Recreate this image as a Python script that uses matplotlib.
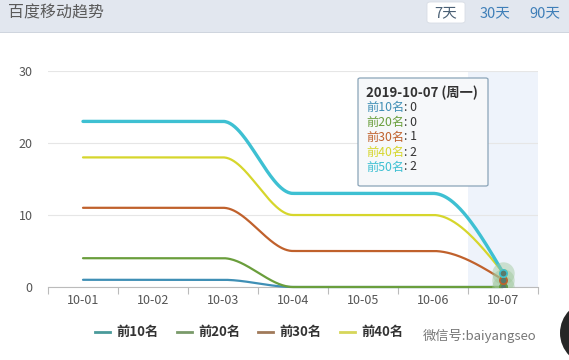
import numpy as np
import matplotlib
matplotlib.use("Agg")
import matplotlib.pyplot as plt
from matplotlib.patches import Rectangle, FancyBboxPatch, Ellipse
from matplotlib.transforms import ScaledTranslation

plt.rcParams['font.family'] = ['Noto Sans CJK SC', 'DejaVu Sans']

dates = ["10-01", "10-02", "10-03", "10-04", "10-05", "10-06", "10-07"]
series_names = ["前10名", "前20名", "前30名", "前40名", "前50名"]
top10 = [1, 1, 1, 0, 0, 0, 0]
top20 = [4, 4, 4, 0, 0, 0, 0]
top30 = [11, 11, 11, 5, 5, 5, 1]
top40 = [18, 18, 18, 10, 10, 10, 2]
top50 = [23, 23, 23, 13, 13, 13, 2]
colors = ["#3f8fb5", "#6a9e3c", "#c0612c", "#d6d62c", "#3ec0d2"]
legend_colors = ["#4a9a9a", "#7a9a6a", "#a07a5a", "#d6d65a"]
widths = [1.6, 1.6, 1.6, 1.6, 2.4]
yticks = [0, 10, 20, 30]
tooltip_title = "2019-10-07 (周一)"


def pchip(y, n=60):
    y = np.asarray(y, float)
    m = len(y)
    d = np.diff(y)
    s = np.zeros(m)
    for k in range(1, m - 1):
        if d[k - 1] * d[k] > 0:
            s[k] = 2.0 / (1.0 / d[k - 1] + 1.0 / d[k])
    def end(d0, d1):
        v = (3 * d0 - d1) / 2.0
        if np.sign(v) != np.sign(d0):
            return 0.0
        if np.sign(d0) != np.sign(d1) and abs(v) > abs(3 * d0):
            return 3 * d0
        return v
    s[0] = end(d[0], d[1])
    s[-1] = end(d[-1], d[-2])
    xs, ys = [], []
    t = np.linspace(0, 1, n)
    for k in range(m - 1):
        h00 = 2 * t**3 - 3 * t**2 + 1
        h10 = t**3 - 2 * t**2 + t
        h01 = -2 * t**3 + 3 * t**2
        h11 = t**3 - t**2
        ys.append(h00 * y[k] + h10 * s[k] + h01 * y[k + 1] + h11 * s[k + 1])
        xs.append(k + t)
    return np.concatenate(xs), np.concatenate(ys)


fig = plt.figure(figsize=(5.69, 3.6), dpi=100)
fig.patch.set_facecolor("white")

# header band
fig.patches.append(Rectangle((0, 1 - 32 / 360), 1, 32 / 360, transform=fig.transFigure,
                             facecolor="#e2e7ef", edgecolor="none", zorder=0))
fig.patches.append(Rectangle((0, 1 - 33 / 360), 1, 1.2 / 360, transform=fig.transFigure,
                             facecolor="#cfd5de", edgecolor="none", zorder=0))
fig.text(8 / 569, 1 - 13 / 360, "百度移动趋势", fontsize=11.5, color="#5a5a5a", va="center", ha="left")
fig.patches.append(FancyBboxPatch((427 / 569, 1 - 23 / 360), 38 / 569, 21 / 360,
                                  boxstyle="round,pad=0,rounding_size=0.006",
                                  transform=fig.transFigure, facecolor="white",
                                  edgecolor="#d8dde5", lw=0.6, zorder=1))
fig.text(446 / 569, 1 - 13 / 360, "7天", fontsize=10.5, color="#4a6075", ha="center", va="center")
fig.text(495 / 569, 1 - 13 / 360, "30天", fontsize=10.5, color="#3f7fb8", ha="center", va="center")
fig.text(545 / 569, 1 - 13 / 360, "90天", fontsize=10.5, color="#3f7fb8", ha="center", va="center")

ax = fig.add_axes([48 / 569, 1 - 287 / 360, 490 / 569, 216 / 360])
ax.set_xlim(-0.5, 6.5)
ax.set_ylim(0, 30)
ax.axvspan(5.5, 6.5, color="#eef3fb", zorder=0, lw=0)

for yv in yticks:
    ax.axhline(yv, color="#e6e6e6", lw=0.8, zorder=1)

data = [top10, top20, top30, top40, top50]
for vals, c, w in zip(data, colors, widths):
    xs, ys = pchip(vals)
    ax.plot(xs, ys, color=c, lw=w, zorder=3, solid_capstyle="round", clip_on=False)

# highlight at last point
last = len(dates) - 1
ax.scatter([last] * 3, [top10[last], top30[last], top50[last]], s=260, color="#9fc79a",
           alpha=0.45, zorder=4, lw=0)
for vals, c in zip(data, colors):
    ax.scatter([last], [vals[last]], s=28, color="#5a7a6a", edgecolor=c, lw=1.2, zorder=5)

ax.set_yticks(yticks)
ax.set_yticklabels([str(v) for v in yticks])
ax.set_xticks(range(len(dates)))
ax.set_xticklabels(dates)
off = ScaledTranslation(10 / 100, 0, fig.dpi_scale_trans)
for lab in ax.get_xticklabels():
    lab.set_transform(lab.get_transform() + off)
ax.set_xticks(np.arange(-0.5, 6.6, 1), minor=True)
ax.tick_params(axis="x", which="major", length=0, labelsize=9, labelcolor="#555555", pad=5)
ax.tick_params(axis="x", which="minor", length=5, color="#bbbbbb", width=0.8)
ax.tick_params(axis="y", length=0, labelsize=9, labelcolor="#555555", pad=11)
for side in ["top", "right", "left"]:
    ax.spines[side].set_visible(False)
ax.spines["bottom"].set_color("#bbbbbb")
ax.spines["bottom"].set_linewidth(0.8)

# tooltip
tip = FancyBboxPatch((358 / 569, 1 - 186 / 360), 130 / 569, 108 / 360,
                     boxstyle="round,pad=0,rounding_size=0.004", transform=fig.transFigure,
                     facecolor="#f6f8fa", edgecolor="#8aa4b8", lw=0.9, zorder=10)
fig.patches.append(tip)
fig.text(366 / 569, 1 - 93 / 360, tooltip_title, fontsize=9.5, fontweight="bold",
         color="#333333", va="center", ha="left", zorder=11)
for i, (name, vals, c) in enumerate(zip(series_names, data, colors)):
    yy = 1 - (107 + 15 * i) / 360
    fig.text(366 / 569, yy, name, fontsize=8.8, color=c, va="center", ha="left", zorder=11)
    fig.text(404 / 569, yy, ": " + str(vals[last]), fontsize=8.8, color="#333333",
             va="center", ha="left", zorder=11)

# legend (first four entries visible)
leg_x = [95, 177, 258, 340]
for i in range(4):
    x0 = leg_x[i] / 569
    y0 = 1 - 332 / 360
    fig.add_artist(plt.Line2D([x0, x0 + 15 / 569], [y0, y0], color=legend_colors[i], lw=2,
                              transform=fig.transFigure))
    fig.text(x0 + 21 / 569, y0, series_names[i], fontsize=9.5, fontweight="bold",
             color="#333333", va="center", ha="left")

# watermark
fig.text(423 / 569, 1 - 336 / 360, "微信号:baiyangseo", fontsize=9.5, color="#555555",
         alpha=0.8, va="center", ha="left", zorder=21)
fig.patches.append(Ellipse((592 / 569, 1 - 333 / 360), 64 / 569, 64 / 360,
                           transform=fig.transFigure, facecolor="#262626", edgecolor="none"))

fig.savefig("out.png", dpi=100)
